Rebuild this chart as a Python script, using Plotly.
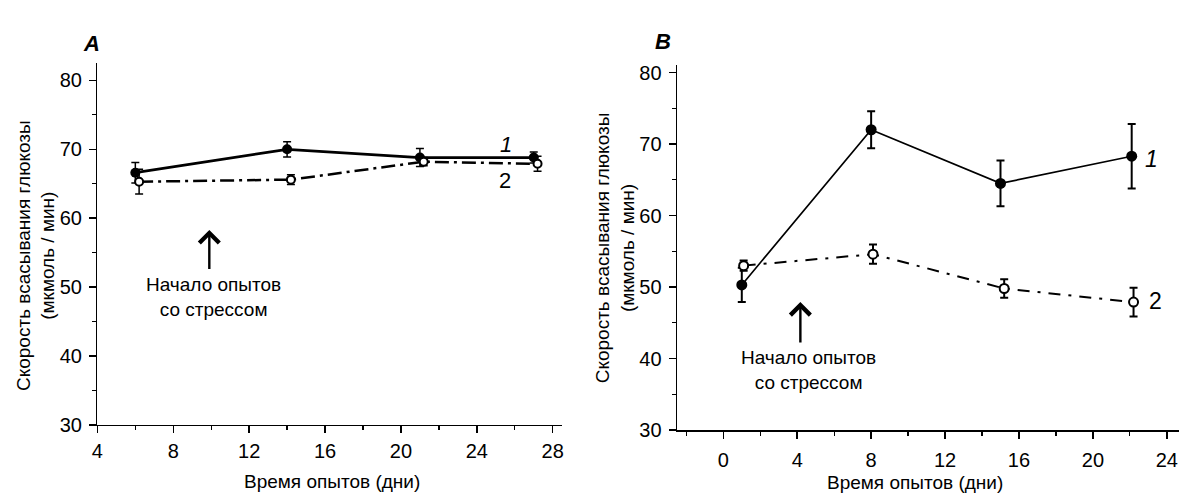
import plotly.graph_objects as go

# ---------------- data ----------------
# Panel A
a_x1 = [6.0, 14.0, 21.0, 27.0]
a_y1 = [66.6, 70.0, 68.8, 68.8]
a_e1 = [1.5, 1.1, 1.3, 0.8]
a_x2 = [6.2, 14.2, 21.2, 27.2]
a_y2 = [65.3, 65.6, 68.2, 67.9]
a_e2 = [1.8, 0.7, 0.6, 1.1]

# Panel B
b_x1 = [1.0, 8.0, 15.0, 22.1]
b_y1 = [50.3, 72.0, 64.5, 68.3]
b_e1 = [2.4, 2.6, 3.2, 4.5]
b_x2 = [1.1, 8.1, 15.2, 22.2]
b_y2 = [53.0, 54.6, 49.8, 47.9]
b_e2 = [0.7, 1.35, 1.3, 2.0]

a_xticks = [4, 8, 12, 16, 20, 24, 28]
b_xticks = [0, 4, 8, 12, 16, 20, 24]
y_ticks = [30, 40, 50, 60, 70, 80]

x_title = "Время опытов (дни)"
y_title = "Скорость всасывания глюкозы<br>(мкмоль / мин)"
note_text = "Начало опытов<br>со стрессом"

FONT = "Arial, Liberation Sans, sans-serif"
W, H = 1181, 499

fig = go.Figure()


def add_series(x, y, e, xa, ya, filled, lw, dash, msize, ethick):
    fig.add_trace(go.Scatter(
        x=x, y=y, xaxis=xa, yaxis=ya, mode="lines+markers",
        line=dict(color="black", width=lw, dash=dash),
        marker=dict(size=msize,
                    color="black" if filled else "white",
                    line=dict(color="black", width=0 if filled else 2)),
        error_y=dict(type="data", array=e, color="black", thickness=ethick, width=4),
        showlegend=False, hoverinfo="skip"))


add_series(a_x1, a_y1, a_e1, "x", "y", True, 2.8, "solid", 10, 1.5)
add_series(a_x2, a_y2, a_e2, "x", "y", False, 2.5, "14px,5px,3px,5px", 8, 1.5)
add_series(b_x1, b_y1, b_e1, "x2", "y2", True, 1.7, "solid", 11, 2)
add_series(b_x2, b_y2, b_e2, "x2", "y2", False, 2.0, "12px,8px,3px,8px", 9, 2)

axis_common = dict(showline=True, linecolor="black", linewidth=1.5,
                   showgrid=False, zeroline=False, ticks="outside",
                   ticklen=7, tickwidth=1.5, tickcolor="black",
                   tickfont=dict(family=FONT, size=20, color="black"),
                   fixedrange=True)

fig.update_layout(
    width=W, height=H,
    margin=dict(l=0, r=0, t=0, b=0),
    paper_bgcolor="white", plot_bgcolor="white",
    font=dict(family=FONT, color="black"),
    xaxis=dict(domain=[92 / W, 560 / W], range=[4, 28.5], anchor="y",
               tickvals=a_xticks, ticklabelstandoff=1,
               minor=dict(ticks="outside", ticklen=4, dtick=2, tickcolor="black", tickwidth=1.3),
               **axis_common),
    yaxis=dict(domain=[(H - 434) / H, (H - 61) / H], range=[30, 82.5], anchor="x",
               tickvals=y_ticks, ticklabelstandoff=3,
               minor=dict(ticks="outside", ticklen=4, dtick=5, tickcolor="black", tickwidth=1.3),
               **axis_common),
    xaxis2=dict(domain=[675.7 / W, 1.0], range=[-2.5, 24.66], anchor="y2",
                tickvals=b_xticks, ticklabelstandoff=4,
                minor=dict(ticks="outside", ticklen=4, dtick=2, tickcolor="black", tickwidth=1.3),
                **axis_common),
    yaxis2=dict(domain=[(H - 439.3) / H, (H - 63.3) / H], range=[30, 81.0], anchor="x2",
                tickvals=y_ticks, ticklabelstandoff=3,
                minor=dict(ticks="outside", ticklen=4, dtick=5, tickcolor="black", tickwidth=1.3),
                **axis_common),
)

ann = []
# panel letters
ann.append(dict(text="<b><i>A</i></b>", x=76 / W, y=(H - 26) / H, xref="paper", yref="paper",
                showarrow=False, font=dict(size=22, family=FONT)))
ann.append(dict(text="<b><i>B</i></b>", x=661 / W, y=(H - 24) / H, xref="paper", yref="paper",
                showarrow=False, font=dict(size=22, family=FONT)))
# axis titles
for cx, cy in [(30, 259), (614, 251)]:
    ann.append(dict(text=y_title, x=cx / W, y=(H - cy) / H, xref="paper", yref="paper",
                    textangle=-90, showarrow=False, xanchor="center", yanchor="middle",
                    font=dict(size=19, family=FONT)))
for cx, cy in [(328, 492), (915, 493)]:
    ann.append(dict(text=x_title, x=cx / W, y=(H - cy) / H, xref="paper", yref="paper",
                    showarrow=False, xanchor="center", yanchor="middle",
                    font=dict(size=19, family=FONT)))
# series labels
ann.append(dict(text="<i>1</i>", x=25.55, y=70.7, xref="x", yref="y", showarrow=False,
                font=dict(size=22, family=FONT)))
ann.append(dict(text="2", x=25.5, y=65.5, xref="x", yref="y", showarrow=False,
                font=dict(size=22, family=FONT)))
ann.append(dict(text="<i>1</i>", x=23.17, y=67.95, xref="x2", yref="y2", showarrow=False,
                font=dict(size=23, family=FONT)))
ann.append(dict(text="2", x=23.37, y=48.0, xref="x2", yref="y2", showarrow=False,
                font=dict(size=23, family=FONT)))
# arrows
ann.append(dict(x=9.9, y=58.3, ax=9.9, ay=52.4, xref="x", yref="y", axref="x", ayref="y",
                showarrow=True, arrowhead=4, arrowsize=1.6, arrowwidth=2.4, arrowcolor="black", text=""))
ann.append(dict(x=4.17, y=47.9, ax=4.17, ay=42.05, xref="x2", yref="y2", axref="x2", ayref="y2",
                showarrow=True, arrowhead=4, arrowsize=1.6, arrowwidth=2.4, arrowcolor="black", text=""))
# notes
ann.append(dict(text=note_text, x=10.1, y=48.6, xref="x", yref="y", showarrow=False,
                font=dict(size=19, family=FONT)))
ann.append(dict(text=note_text, x=4.6, y=38.4, xref="x2", yref="y2", showarrow=False,
                font=dict(size=19, family=FONT)))

fig.update_layout(annotations=ann)

fig.write_html("out.html",
               config={"displayModeBar": False, "staticPlot": True},
               post_script="document.body.style.margin='0';document.body.style.overflow='hidden';")
